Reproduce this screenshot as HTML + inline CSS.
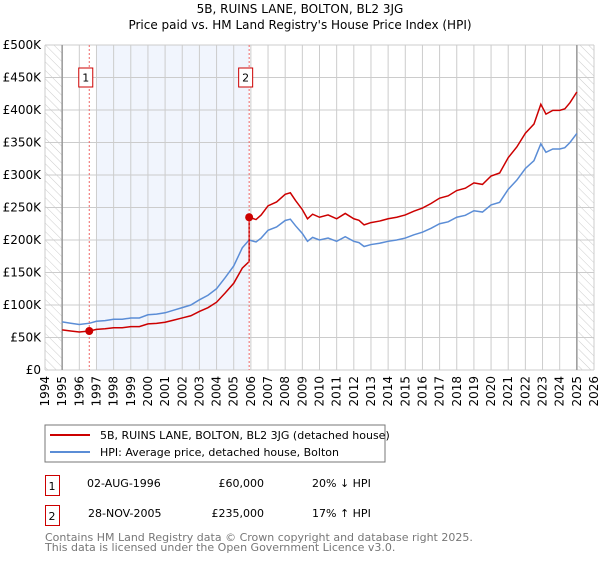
<!DOCTYPE html>
<html><head><meta charset="utf-8"><style>
body{margin:0;background:#fff;width:600px;height:560px;overflow:hidden;font-family:"DejaVu Sans","Liberation Sans",sans-serif}
svg text{font-family:"DejaVu Sans","Liberation Sans",sans-serif}
</style></head><body>
<svg id="c" width="600" height="560" viewBox="0 0 600 560">
<defs><pattern id="hatch" width="6" height="6" patternUnits="userSpaceOnUse" patternTransform="rotate(-45)"><line x1="0" y1="0" x2="0" y2="6" stroke="#ccc" stroke-width="1"/></pattern></defs>
<text x="300" y="13" text-anchor="middle" font-size="12">5B, RUINS LANE, BOLTON, BL2 3JG</text>
<text x="300" y="29" text-anchor="middle" font-size="12">Price paid vs. HM Land Registry's House Price Index (HPI)</text>
<g id="grid"></g><g id="marks"></g><g id="axes"></g>
<rect x="45" y="425" width="340" height="37" fill="#fff" stroke="#777"/>
<line x1="50" y1="435" x2="90" y2="435" stroke="#cc0000" stroke-width="2"/>
<text x="100" y="439" font-size="11">5B, RUINS LANE, BOLTON, BL2 3JG (detached house)</text>
<line x1="50" y1="452" x2="90" y2="452" stroke="#5b8dd6" stroke-width="2"/>
<text x="100" y="456" font-size="11">HPI: Average price, detached house, Bolton</text>
<g>
<rect x="45.5" y="475.5" width="14" height="20" fill="#fff" stroke="#cc0000"/><text x="52" y="490" font-size="11" text-anchor="middle">1</text>
<text x="87" y="487" font-size="11">02-AUG-1996</text><text x="264" y="487" font-size="11" text-anchor="end">£60,000</text><text x="312" y="487" font-size="11">20% ↓ HPI</text></g>
<g>
<rect x="45.5" y="505.5" width="14" height="20" fill="#fff" stroke="#cc0000"/><text x="52" y="520" font-size="11" text-anchor="middle">2</text>
<text x="88" y="517" font-size="11">28-NOV-2005</text><text x="264" y="517" font-size="11" text-anchor="end">£235,000</text><text x="312" y="517" font-size="11">17% ↑ HPI</text></g>
<text x="45" y="541" font-size="11" fill="#777">Contains HM Land Registry data © Crown copyright and database right 2025.</text>
<text x="45" y="551" font-size="11" fill="#777">This data is licensed under the Open Government Licence v3.0.</text>
</svg>
<script>
const hpiYears=[1995,1995.5,1996,1996.6,1997,1997.5,1998,1998.5,1999,1999.5,2000,2000.5,2001,2001.5,2002,2002.5,2003,2003.5,2004,2004.5,2005,2005.5,2005.9,2006.3,2006.6,2007,2007.5,2008,2008.3,2008.6,2009,2009.3,2009.6,2010,2010.5,2011,2011.5,2012,2012.3,2012.6,2013,2013.5,2014,2014.5,2015,2015.5,2016,2016.5,2017,2017.5,2018,2018.5,2019,2019.5,2020,2020.5,2021,2021.5,2022,2022.5,2022.9,2023.2,2023.6,2024,2024.3,2024.6,2025];
const hpiValues=[74,72,70,72,75,76,78,78,80,80,85,86,88,92,96,100,108,115,125,142,160,188,200,197,203,215,220,230,232,222,210,198,204,200,203,198,205,198,196,190,193,195,198,200,203,208,212,218,225,228,235,238,245,243,254,258,278,292,310,322,348,335,340,340,342,350,364];
const sales=[{n:1,year:1996.58,price:60},{n:2,year:2005.9,price:235}];
const yTicks=[0,50,100,150,200,250,300,350,400,450,500];
const xTicks=[1994,1995,1996,1997,1998,1999,2000,2001,2002,2003,2004,2005,2006,2007,2008,2009,2010,2011,2012,2013,2014,2015,2016,2017,2018,2019,2020,2021,2022,2023,2024,2025,2026];
const X0=45,X1=594,Y0=370,Y1=45;
const xs=y=>X0+(y-1994)/32*(X1-X0);
const ys=v=>Y0-v/500*(Y0-Y1);
const NS="http://www.w3.org/2000/svg";
function mk(tag,at,parent){const e=document.createElementNS(NS,tag);for(const k in at)e.setAttribute(k,at[k]);parent.appendChild(e);return e;}
const grid=document.getElementById('grid'),marks=document.getElementById('marks'),axes=document.getElementById('axes');
let bg=mk('rect',{x:X0,y:Y1,width:X1-X0,height:Y0-Y1,fill:'#fff'},grid);


let h1=mk('rect',{x:X0,y:Y1,width:xs(1995)-X0,height:Y0-Y1,fill:'url(#hatch)'},grid);


let h2=mk('rect',{x:xs(2025.1),y:Y1,width:X1-xs(2025.1),height:Y0-Y1,fill:'url(#hatch)'},grid);


let band=mk('rect',{x:xs(1997),y:Y1,width:xs(sales[1].year)-xs(1997),height:Y0-Y1,fill:'#eef3fc',opacity:0.8},grid);


yTicks.forEach(t=>{const l=mk('line',{x1:X0,x2:X1,y1:ys(t),y2:ys(t),stroke:'#ccc'},grid);


const tx=mk('text',{x:X0-4,y:ys(t)+4,'text-anchor':'end','font-size':12},axes);tx.textContent=t===0?'£0':'£'+t+'K';

});
xTicks.forEach(t=>{const l=mk('line',{x1:xs(t),x2:xs(t),y1:Y1,y2:Y0,stroke:'#ccc'},grid);


const tx=mk('text',{x:0,y:0,'text-anchor':'end','font-size':12,transform:`translate(${xs(t)+4},${Y0+6}) rotate(-90)`},axes);tx.textContent=t;

});
[1995,2025].forEach(t=>{const l=mk('line',{x1:xs(t),x2:xs(t),y1:Y1,y2:Y0,stroke:'#999','stroke-width':1.5},grid);

});
function hpiAt(y){for(let i=1;i<hpiYears.length;i++)if(y<=hpiYears[i]){const f=(y-hpiYears[i-1])/(hpiYears[i]-hpiYears[i-1]);return hpiValues[i-1]+f*(hpiValues[i]-hpiValues[i-1]);}return hpiValues[hpiValues.length-1];}
let hp=mk('polyline',{points:hpiYears.map((y,i)=>xs(y)+','+ys(hpiValues[i])).join(' '),fill:'none',stroke:'#5b8dd6','stroke-width':1.5},marks);


const pts=[];
hpiYears.forEach((y,i)=>{const s=y<sales[1].year?sales[0]:sales[1];pts.push([y,hpiValues[i]*s.price/hpiAt(s.year)]);});
pts.push([sales[1].year,sales[0].price*hpiAt(sales[1].year)/hpiAt(sales[0].year)]);
pts.push([sales[1].year,sales[1].price]);
pts.sort((a,b)=>a[0]-b[0]||a[1]-b[1]);
let pl=mk('polyline',{points:pts.map(p=>xs(p[0])+','+ys(p[1])).join(' '),fill:'none',stroke:'#cc0000','stroke-width':1.5},marks);


sales.forEach(s=>{const l=mk('line',{x1:xs(s.year),x2:xs(s.year),y1:Y1,y2:Y0,stroke:'#e66','stroke-dasharray':'2,2'},marks);


const c=mk('circle',{cx:xs(s.year),cy:ys(s.price),r:4,fill:'#cc0000'},marks);


const b=mk('rect',{x:xs(s.year)-10.5,y:ys(450)-9.5,width:14,height:19,fill:'#fff',stroke:'#cc0000'},marks);


const t=mk('text',{x:xs(s.year)-3.5,y:ys(450)+4,'text-anchor':'middle','font-size':11},marks);t.textContent=s.n;

});
</script>
</body></html>
